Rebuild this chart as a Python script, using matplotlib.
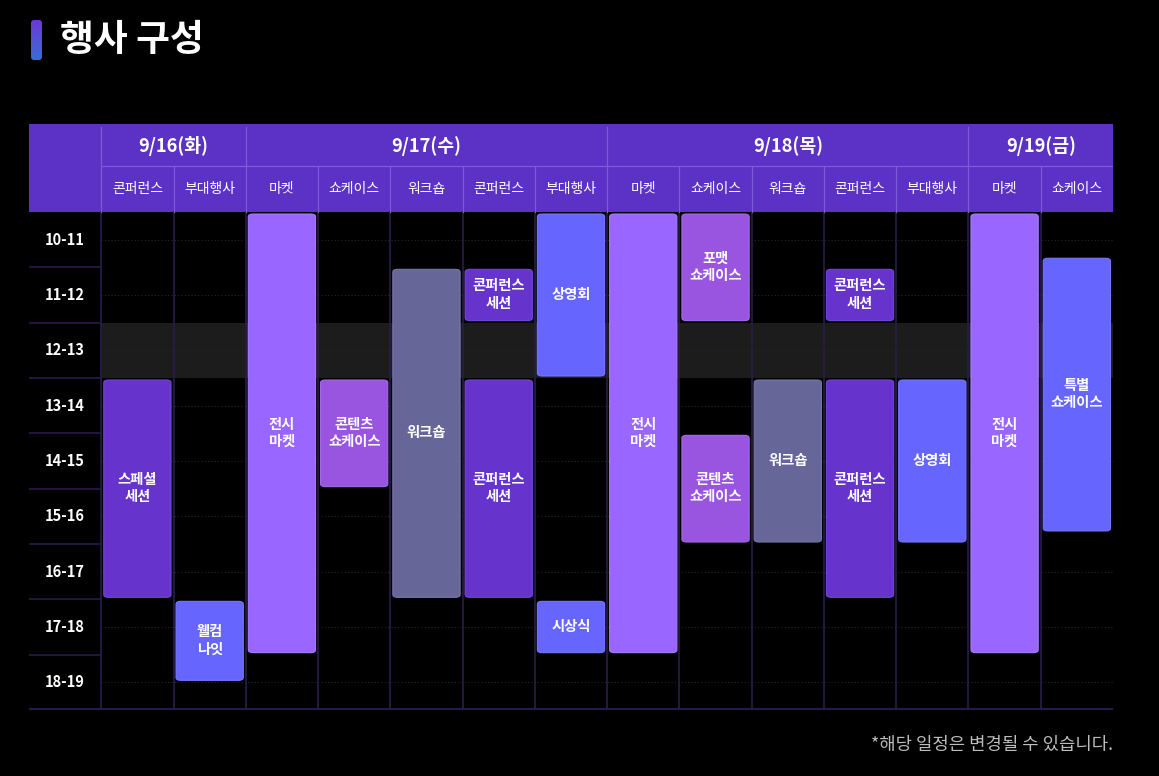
import matplotlib
matplotlib.use("Agg")
import matplotlib.pyplot as plt
from matplotlib.patches import FancyBboxPatch, Rectangle
from matplotlib.colors import LinearSegmentedColormap
import numpy as np

plt.rcParams['font.family'] = ['Noto Sans CJK KR', 'DejaVu Sans']

# ---------------- data ----------------
dates = ["9/16(화)", "9/17(수)", "9/18(목)", "9/19(금)"]
date_spans = [2, 5, 5, 2]
sub_cols = ["콘퍼런스", "부대행사",
            "마켓", "쇼케이스", "워크숍", "콘퍼런스", "부대행사",
            "마켓", "쇼케이스", "워크숍", "콘퍼런스", "부대행사",
            "마켓", "쇼케이스"]
time_labels = ["10-11", "11-12", "12-13", "13-14", "14-15", "15-16", "16-17", "17-18", "18-19"]
lunch_start, lunch_end = 12, 13

event_cols   = [0, 1, 2, 3, 4, 5, 5, 6, 6, 7, 8, 8, 9, 10, 10, 11, 12, 13]
event_starts = [13, 17, 10, 13, 11, 11, 13, 10, 17, 10, 10, 14, 13, 11, 13, 13, 10, 10.8]
event_ends   = [17, 18.5, 18, 15, 17, 12, 17, 13, 18, 18, 12, 16, 16, 12, 17, 16, 18, 15.8]
event_labels = ["스페셜\n세션", "웰컴\n나잇", "전시\n마켓", "콘텐츠\n쇼케이스", "워크숍",
                "콘퍼런스\n세션", "콘퍼런스\n세션", "상영회", "시상식", "전시\n마켓",
                "포맷\n쇼케이스", "콘텐츠\n쇼케이스", "워크숍", "콘퍼런스\n세션", "콘퍼런스\n세션",
                "상영회", "전시\n마켓", "특별\n쇼케이스"]
event_types  = ["conf", "side", "market", "show", "work", "conf", "conf", "side", "side", "market",
                "show", "show", "work", "conf", "conf", "side", "market", "side"]

type_colors = {"market": "#9966ff", "conf": "#6633cc", "show": "#9955e0",
               "work": "#666699", "side": "#6666ff"}
type_edges = {"market": "#a57bff", "conf": "#7447d6", "show": "#a56ae6",
              "work": "#7878a8", "side": "#7777ff"}

# ---------------- layout ----------------
W, H = 1159, 776
fig = plt.figure(figsize=(W / 100, H / 100), dpi=100, facecolor="black")

tbl_left, tbl_right, tbl_top, tbl_bottom = 29, 1113, 124, 710
hdr_date_h, hdr_sub_h = 42, 46
ncol = len(sub_cols)
t0, t1 = 10, 10 + len(time_labels)
px_per_x = (tbl_right - tbl_left) / (ncol + 1)
px_per_y = (tbl_bottom - tbl_top - hdr_date_h - hdr_sub_h) / (t1 - t0)
y_top = t0 - (hdr_date_h + hdr_sub_h) / px_per_y
y_mid = t0 - hdr_sub_h / px_per_y

ax = fig.add_axes([tbl_left / W, 1 - tbl_bottom / H, (tbl_right - tbl_left) / W,
                   (tbl_bottom - tbl_top) / H])
ax.set_facecolor("black")
ax.set_xlim(-1, ncol)
ax.set_ylim(t1, y_top)
ax.axis("off")

header_color = "#5b31c6"
hdr_line = "#7b5bd8"

# header background
ax.add_patch(Rectangle((-1, y_top), ncol + 1, t0 - y_top, facecolor=header_color,
                       edgecolor="none", zorder=1))
# header lines
ax.plot([0, ncol], [y_mid, y_mid], color=hdr_line, lw=0.9, zorder=2)
bounds = np.cumsum([0] + date_spans)
for i in range(ncol):
    if i in bounds:
        ax.plot([i, i], [y_top + 0.06, t0], color=hdr_line, lw=0.9, zorder=2)
    else:
        ax.plot([i, i], [y_mid, t0], color=hdr_line, lw=0.9, zorder=2)
# date labels
for d, a, b in zip(dates, bounds[:-1], bounds[1:]):
    ax.text((a + b) / 2, (y_top + y_mid) / 2 + 0.02, d, ha="center", va="center",
            color="white", fontsize=13.2, fontweight="bold", zorder=3)
for i, s in enumerate(sub_cols):
    ax.text(i + 0.5, (y_mid + t0) / 2, s, ha="center", va="center",
            color="white", fontsize=10, zorder=3)

# lunch band
ax.add_patch(Rectangle((0, lunch_start), ncol, lunch_end - lunch_start,
                       facecolor="#1c1c1c", edgecolor="none", zorder=1))
# dotted half-hour lines
for k in range(t1 - t0):
    ax.plot([0, ncol], [t0 + k + 0.5] * 2, color="#262626", lw=0.8,
            linestyle=(0, (1, 2)), zorder=1.5)
# solid hour lines in label column
for k in range(1, t1 - t0):
    ax.plot([-1, 0], [t0 + k] * 2, color="#2a1a4c", lw=1.2, zorder=2)
ax.plot([-1, ncol], [t1 - 0.01] * 2, color="#2a1a4c", lw=1.5, zorder=2)
# vertical column lines
for i in range(ncol):
    ax.plot([i, i], [t0, t1], color="#2a1d48", lw=1.2, zorder=1.6)

# time labels
for k, lab in enumerate(time_labels):
    ax.text(-0.5, t0 + k + 0.5, lab, ha="center", va="center", color="white",
            fontsize=10.5, fontweight="bold", zorder=3)

# events
padx = 2.5 / px_per_x
pady = 2.0 / px_per_y
aspect = px_per_x / px_per_y
for c, s, e, lab, tp in zip(event_cols, event_starts, event_ends, event_labels, event_types):
    box = FancyBboxPatch((c + padx, s + pady), 1 - 2 * padx, (e - s) - 2 * pady,
                         boxstyle="round,pad=0,rounding_size=0.065",
                         mutation_aspect=1 / aspect,
                         facecolor=type_colors[tp], edgecolor=type_edges[tp], lw=0.8, zorder=4)
    ax.add_patch(box)
    ax.text(c + 0.5, (s + e) / 2, lab, ha="center", va="center", color="white",
            fontsize=10.3, fontweight="bold", linespacing=1.3, zorder=5)

# title bar (rounded gradient)
bax = fig.add_axes([31 / W, 1 - 60 / H, 11 / W, 40 / H])
grad = np.linspace(0, 1, 64).reshape(-1, 1)
cmap = LinearSegmentedColormap.from_list("g", ["#6c38d8", "#3a6cd8"])
im = bax.imshow(grad, aspect="auto", cmap=cmap, extent=[0, 1, 1, 0])
clip = FancyBboxPatch((0, 0), 1, 1, boxstyle="round,pad=0,rounding_size=0.3",
                      mutation_aspect=11 / 40 * 1, transform=bax.transData,
                      facecolor="none", edgecolor="none")
bax.add_patch(clip)
im.set_clip_path(clip)
bax.set_xlim(0, 1)
bax.set_ylim(1, 0)
bax.axis("off")

fig.text(60 / W, 1 - 40 / H, "행사 구성", ha="left", va="center", color="white",
         fontsize=26.5, fontweight="bold")
fig.text(1113 / W, 1 - 745 / H, "*해당 일정은 변경될 수 있습니다.", ha="right", va="center",
         color="#bdbdbd", fontsize=12.8)

fig.savefig("out.png", dpi=100, facecolor="black")
